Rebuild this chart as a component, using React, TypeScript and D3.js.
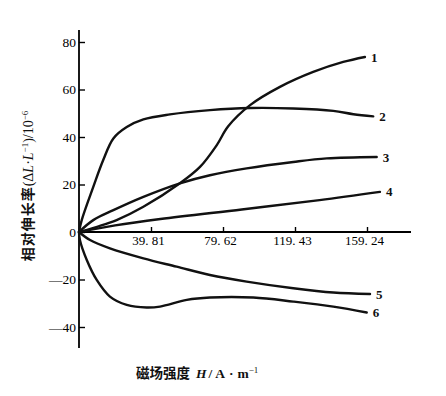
import React, { useRef, useEffect } from 'react';
import * as d3 from 'd3';

// field strength H (A/m) and relative elongation (10^-6)
const h1 = [0, 10, 20.8, 35.6, 55.8, 66.9, 76.1, 82.5, 94.6, 111.1, 129.5, 146.1, 158.1];
const s1 = [0, 2.2, 5.0, 10.6, 20.5, 27.4, 36.5, 44.5, 53.4, 61.1, 67.4, 71.6, 73.7];
const h2 = [0, 1.5, 7.9, 13.4, 19.0, 26.4, 35.6, 50.3, 72.4, 94.6, 118.5, 140.6, 151.7, 162.7];
const s2 = [0, 5.0, 19.0, 30.3, 39.4, 44.2, 47.4, 49.5, 51.3, 52.2, 52.0, 51.0, 49.6, 48.7];
const h3 = [0, 7.9, 19.0, 35.6, 55.8, 72.4, 92.7, 118.5, 137.0, 164.6];
const s3 = [0, 5.0, 9.2, 14.8, 20.5, 23.9, 26.8, 29.5, 31.0, 31.6];
const h4 = [0, 20, 45, 90, 133, 166.4];
const s4 = [0, 2.8, 5.5, 9.5, 13.4, 16.9];
const h5 = [0, 6.1, 17.1, 35.6, 54, 72.4, 92.7, 118.5, 140.6, 160.9];
const s5 = [0, -3.4, -6.9, -11.1, -14.6, -18.1, -20.9, -23.7, -25.5, -26.1];
const h6 = [0, 0.5, 4.3, 9.8, 17.1, 26.4, 37.4, 44.8, 59.6, 72.4, 96.4, 118.5, 140.6, 159.1];
const s6 = [0, -3.4, -11.8, -20.2, -27.2, -30.7, -31.8, -31.4, -28.6, -27.6, -27.6, -29.3, -31.4, -33.9];

const curveNames = ['1', '2', '3', '4', '5', '6'];
const xTicks = [39.81, 79.62, 119.43, 159.24];
const yTicks = [-40, -20, 0, 20, 40, 60, 80];

const serif = '"Liberation Serif", "DejaVu Serif", serif';
const cjk = '"Noto Sans CJK SC", sans-serif';

const App = () => {
  const svgRef = useRef<SVGSVGElement>(null);
  useEffect(() => {
    const svg = d3.select(svgRef.current);
    svg.selectAll('*').remove();

    const x = d3.scaleLinear().domain([0, 159.24]).range([79, 367]);
    const y = d3.scaleLinear().domain([0, 80]).range([232, 42]);

    const series = [[h1, s1], [h2, s2], [h3, s3], [h4, s4], [h5, s5], [h6, s6]].map(([hs, ss], i) => ({
      name: curveNames[i],
      points: hs.map((h, j) => [h, ss[j]] as [number, number]),
    }));

    // x axis
    const gx = svg.append('g')
      .attr('transform', `translate(0,${y(0)})`)
      .call(d3.axisBottom(x)
        .tickValues(xTicks)
        .tickSizeInner(-5)
        .tickSizeOuter(0)
        .tickPadding(4)
        .tickFormat(d => d3.format('.2f')(d as number).replace('.', '. ')));
    gx.select('.domain').remove();
    gx.append('line')
      .attr('x1', x(0)).attr('x2', 411)
      .attr('stroke', '#000').attr('stroke-width', 1.8);
    gx.selectAll('.tick line').attr('stroke-width', 1.4);
    gx.selectAll('text')
      .attr('fill', '#000')
      .attr('dx', -3)
      .style('font-family', serif)
      .style('font-size', '13px');

    // y axis
    const gy = svg.append('g')
      .attr('transform', `translate(${x(0)},0)`)
      .call(d3.axisLeft(y)
        .tickValues(yTicks)
        .tickSizeInner(-6)
        .tickSizeOuter(0)
        .tickPadding(3)
        .tickFormat(d => (d as number) < 0 ? `\u2014${Math.abs(d as number)}` : `${d}`));
    gy.select('.domain').remove();
    gy.append('line')
      .attr('y1', 30).attr('y2', 348)
      .attr('stroke', '#000').attr('stroke-width', 1.8);
    gy.selectAll('.tick line').attr('stroke-width', 1.4);
    gy.selectAll('text')
      .attr('fill', '#000')
      .style('font-family', serif)
      .style('font-size', '13.5px');

    // curves
    const line = d3.line<[number, number]>()
      .x(d => x(d[0]))
      .y(d => y(d[1]))
      .curve(d3.curveCatmullRom.alpha(0.5));

    svg.append('g').selectAll('path')
      .data(series)
      .join('path')
      .attr('d', d => line(d.points))
      .attr('fill', 'none')
      .attr('stroke', '#111')
      .attr('stroke-width', 2.4)
      .attr('stroke-linecap', 'round');

    svg.append('g').selectAll('text')
      .data(series)
      .join('text')
      .attr('x', d => x(d.points[d.points.length - 1][0]) + 6)
      .attr('y', d => y(d.points[d.points.length - 1][1]))
      .attr('dy', '0.35em')
      .text(d => d.name)
      .style('font-family', serif)
      .style('font-weight', 'bold')
      .style('font-size', '13px')
      .attr('fill', '#111');

    // axis titles
    const yl = svg.append('text')
      .attr('transform', 'translate(33,186) rotate(-90)')
      .attr('text-anchor', 'middle')
      .attr('fill', '#111')
      .style('font-size', '14px');
    yl.append('tspan').style('font-family', cjk).style('font-weight', 'bold').attr('letter-spacing', 1).text('相对伸长率');
    yl.append('tspan').style('font-family', serif).text('(Δ');
    yl.append('tspan').style('font-family', serif).style('font-style', 'italic').text('L');
    yl.append('tspan').style('font-family', serif).text('·');
    yl.append('tspan').style('font-family', serif).style('font-style', 'italic').text('L');
    yl.append('tspan').style('font-family', serif).style('font-size', '9px').attr('dy', -5).text('−1');
    yl.append('tspan').style('font-family', serif).attr('dy', 5).text(')/10');
    yl.append('tspan').style('font-family', serif).style('font-size', '9px').attr('dy', -5).text('−6');

    const xl = svg.append('text')
      .attr('x', 136)
      .attr('y', 378)
      .attr('fill', '#111')
      .style('font-size', '13.5px');
    xl.append('tspan').style('font-family', cjk).style('font-weight', 'bold').text('磁场强度');
    xl.append('tspan').attr('dx', 6).style('font-family', serif).style('font-style', 'italic').style('font-weight', 'bold').text('H');
    xl.append('tspan').attr('dx', 2).style('font-family', serif).style('font-weight', 'bold').text('/');
    xl.append('tspan').attr('dx', 3).style('font-family', serif).style('font-weight', 'bold').text('A');
    xl.append('tspan').attr('dx', 4).style('font-family', serif).style('font-weight', 'bold').text('·');
    xl.append('tspan').attr('dx', 4).style('font-family', serif).style('font-weight', 'bold').text('m');
    xl.append('tspan').style('font-family', serif).style('font-size', '9px').attr('dy', -5).text('−1');
  }, []);

  return (
    <svg
      ref={svgRef}
      width={446}
      height={396}
      style={{ position: 'absolute', left: 0, top: 0, background: '#fff' }}
    />
  );
};

export default App;
